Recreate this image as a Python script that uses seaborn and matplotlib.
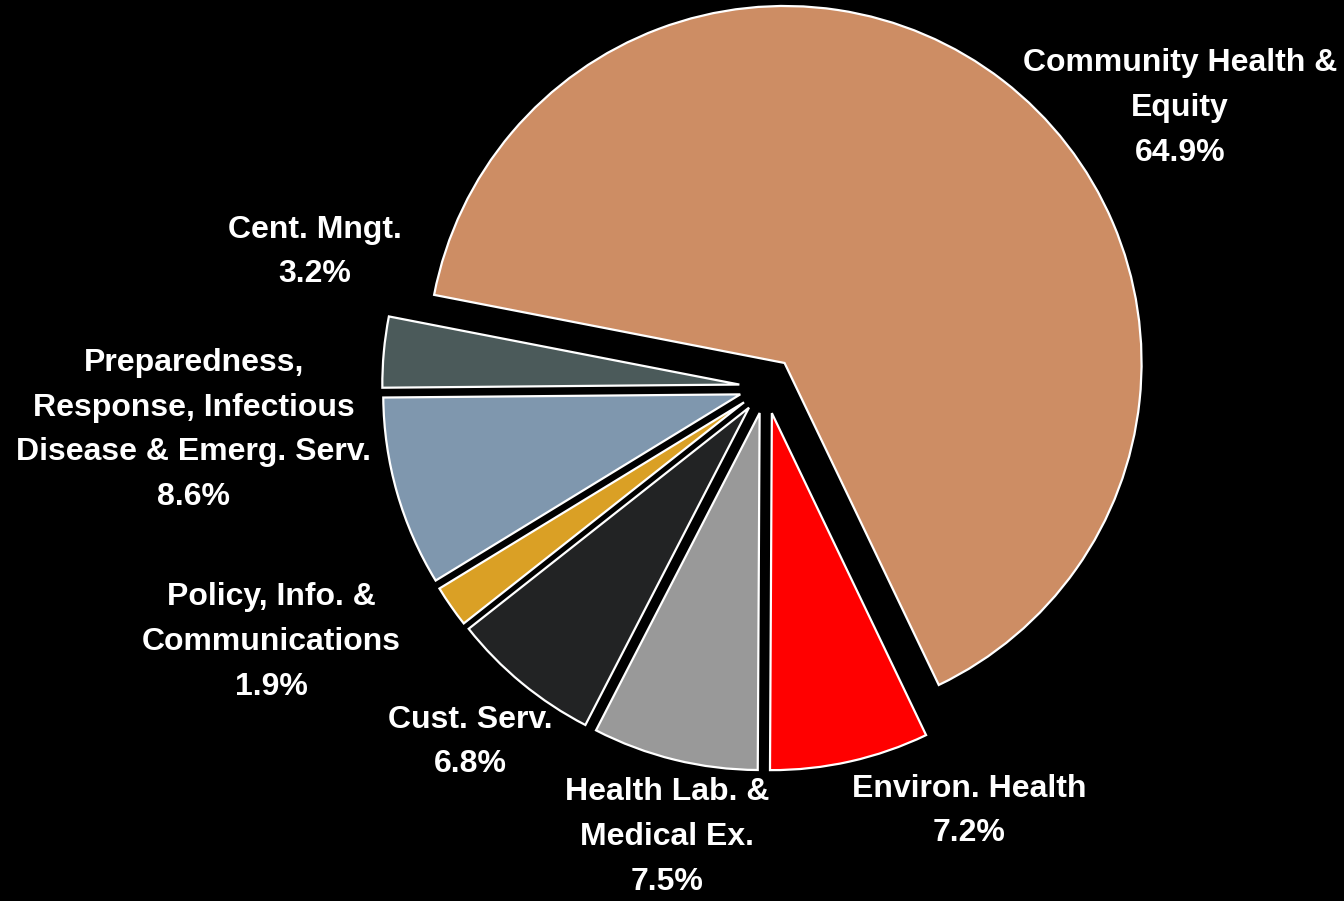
import numpy as np
import pandas as pd
import matplotlib
matplotlib.use('Agg')
import matplotlib.pyplot as plt
import seaborn as sns

sns.set_theme(style='dark')
plt.rcParams['font.family'] = ['Liberation Sans', 'DejaVu Sans']

# Data (share of budget, %)
divisions = [
    'Community Health &\nEquity',
    'Environ. Health',
    'Health Lab. &\nMedical Ex.',
    'Cust. Serv.',
    'Policy, Info. &\nCommunications',
    'Preparedness,\nResponse, Infectious\nDisease & Emerg. Serv.',
    'Cent. Mngt.',
]
shares = [64.9, 7.2, 7.5, 6.8, 1.9, 8.6, 3.2]
colors = ['#CD8D64', '#FF0000', '#999999', '#222324', '#DAA025', '#7F97AE', '#4B5A5A']

df = pd.DataFrame({'division': divisions, 'share': shares, 'color': colors})

# label anchor points (pixels from top-left)
label_pos = [(1180, 108), (969, 811), (667, 837), (470, 742),
             (271, 642), (194, 430), (315, 252)]

fig = plt.figure(figsize=(13.44, 9.01), dpi=100)
fig.patch.set_facecolor('black')
ax = fig.add_axes([0, 0, 1, 1])
ax.set_facecolor('black')

explode = [0.085] + [0.075] * (len(df) - 1)
ax.pie(df['share'], colors=df['color'], startangle=169, counterclock=False,
       explode=explode, radius=1,
       wedgeprops=dict(edgecolor='white', linewidth=1.6))

# map pixel layout: centre at (766, 387), radius ~357 px
ax.set_xlim(-766 / 357, (1344 - 766) / 357)
ax.set_ylim((387 - 901) / 357, 387 / 357)
ax.set_aspect('equal')
ax.axis('off')

for (name, val), (px, py) in zip(zip(df['division'], df['share']), label_pos):
    ax.text(px / 1344, 1 - py / 901, f'{name}\n{val:.1f}%',
            transform=ax.transAxes, ha='center', va='center',
            color='white', fontsize=23, fontweight='bold', linespacing=1.65)

plt.savefig('out.png', facecolor='black')
